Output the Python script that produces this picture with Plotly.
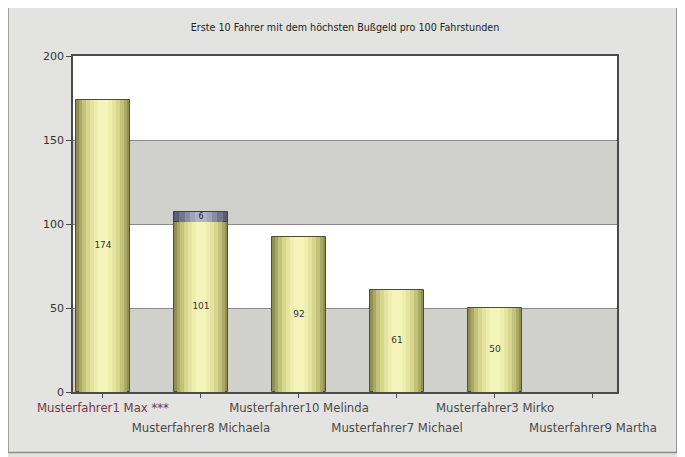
import plotly.graph_objects as go

title = "Erste 10 Fahrer mit dem höchsten Bußgeld pro 100 Fahrstunden"
drivers = ["Musterfahrer1 Max ***", "Musterfahrer8 Michaela", "Musterfahrer10 Melinda",
           "Musterfahrer7 Michael", "Musterfahrer3 Mirko", "Musterfahrer9 Martha"]
values_main = [174, 101, 92, 61, 50, 0]
values_extra = [0, 6, 0, 0, 0, 0]
y_ticks = [0, 50, 100, 150, 200]

xs = list(range(len(drivers)))
W = 0.56
main_plot = [v if v > 0 else None for v in values_main]
extra_plot = [v if v > 0 else None for v in values_extra]

LBL_FONT = "DejaVu Sans"

fig = go.Figure()

# cylinder-like gradient via layered bars
yellow_layers = [
    (1.00, "#8f8f52"), (0.88, "#a9a966"), (0.76, "#c2c27a"), (0.62, "#d6d68e"),
    (0.48, "#e4e4a0"), (0.34, "#eeeeae"), (0.20, "#f5f5bb"),
]
for i, (f, c) in enumerate(yellow_layers):
    fig.add_trace(go.Bar(
        x=xs, y=main_plot, width=W * f, marker_color=c,
        marker_line_width=1 if i == 0 else 0, marker_line_color="#4e4e34",
        hoverinfo="skip", showlegend=False,
    ))

blue_layers = [
    (1.00, "#5c5c78"), (0.80, "#74748f"), (0.60, "#8c8ca6"), (0.40, "#a2a2ba"), (0.22, "#b4b4c8"),
]
for i, (f, c) in enumerate(blue_layers):
    fig.add_trace(go.Bar(
        x=xs, y=extra_plot, base=values_main, width=W * f, marker_color=c,
        marker_line_width=1 if i == 0 else 0, marker_line_color="#3e3e50",
        hoverinfo="skip", showlegend=False,
    ))

# value labels
lx = [x for x, v in zip(xs, values_main) if v > 0]
ly = [v / 2 for v in values_main if v > 0]
lt = [str(v) for v in values_main if v > 0]
fig.add_trace(go.Scatter(x=lx, y=ly, text=lt, mode="text",
                         textfont=dict(size=9, color="#333333", family=LBL_FONT),
                         hoverinfo="skip", showlegend=False))
ex = [x for x, v in zip(xs, values_extra) if v > 0]
ey = [m + v / 2 for m, v in zip(values_main, values_extra) if v > 0]
et = [str(v) for v in values_extra if v > 0]
fig.add_trace(go.Scatter(x=ex, y=ey, text=et, mode="text",
                         textfont=dict(size=8, color="#222222", family=LBL_FONT),
                         hoverinfo="skip", showlegend=False))

# staggered category labels: even indices on the first row, odd on the second
row1_text = []
for i, d in enumerate(drivers):
    if i % 2 == 1:
        row1_text.append("")
    elif i == 0:
        row1_text.append("<span style='color:#6e3a48'>%s</span>" % d)
    else:
        row1_text.append(d)
row2_vals = [x for x in xs if x % 2 == 1]
row2_text = [drivers[x] for x in row2_vals]

# invisible carrier so the second-row axis is drawn
fig.add_trace(go.Scatter(x=row2_vals, y=[0] * len(row2_vals), xaxis="x2", yaxis="y",
                         mode="markers", marker=dict(opacity=0, size=1),
                         hoverinfo="skip", showlegend=False))

shapes = []
for k in range(0, len(y_ticks) - 1):
    if k % 2 == 0:
        shapes.append(dict(type="rect", xref="paper", yref="y", x0=0, x1=1,
                           y0=y_ticks[k], y1=y_ticks[k + 1], fillcolor="#d0d0cc",
                           line_width=0, layer="below"))
# outer frame
shapes.append(dict(type="rect", xref="paper", yref="paper", x0=-0.1195, x1=1.11,
                   y0=-0.18, y1=1.152, line=dict(color="#8c8c8c", width=1.5),
                   fillcolor="rgba(0,0,0,0)", layer="below"))

X_RANGE = [-0.306, 5.245]
fig.update_layout(
    width=685, height=457,
    margin=dict(l=65, r=76, t=48, b=73, autoexpand=False),
    paper_bgcolor="#e3e3e1", plot_bgcolor="#ffffff",
    barmode="overlay", bargap=0,
    font=dict(family=LBL_FONT, color="#333333"),
    shapes=shapes,
    title=dict(text=title, x=0.5, xref="paper", y=0.957, yanchor="middle",
               font=dict(size=9.6, color="#222222", family=LBL_FONT)),
    showlegend=False,
    xaxis=dict(
        tickmode="array", tickvals=xs, ticktext=row1_text, tickangle=0, automargin=False,
        range=X_RANGE, showgrid=False, zeroline=False,
        showline=True, linecolor="#4a4a4a", linewidth=1.5, mirror=True,
        ticks="outside", ticklen=4, tickcolor="#4a4a4a",
        tickfont=dict(size=11.7, color="#4a4a4a", family=LBL_FONT),
    ),
    xaxis2=dict(
        overlaying="x", side="bottom", anchor="y", range=X_RANGE,
        tickmode="array", tickvals=row2_vals, ticktext=row2_text, tickangle=0,
        automargin=False, showgrid=False, zeroline=False, showline=False,
        ticks="outside", ticklen=4, tickcolor="rgba(0,0,0,0)",
        ticklabelstandoff=21,
        tickfont=dict(size=11.7, color="#4a4a4a", family=LBL_FONT),
    ),
    yaxis=dict(
        range=[0, 200], tickvals=y_ticks, showgrid=True, gridcolor="#8a8a8a", gridwidth=1,
        automargin=False,
        zeroline=False, showline=True, linecolor="#4a4a4a", linewidth=1.5, mirror=True,
        ticks="outside", ticklen=5, tickcolor="#4a4a4a",
        tickfont=dict(size=11, color="#333333", family=LBL_FONT),
    ),
)

fig.write_html("out.html")
